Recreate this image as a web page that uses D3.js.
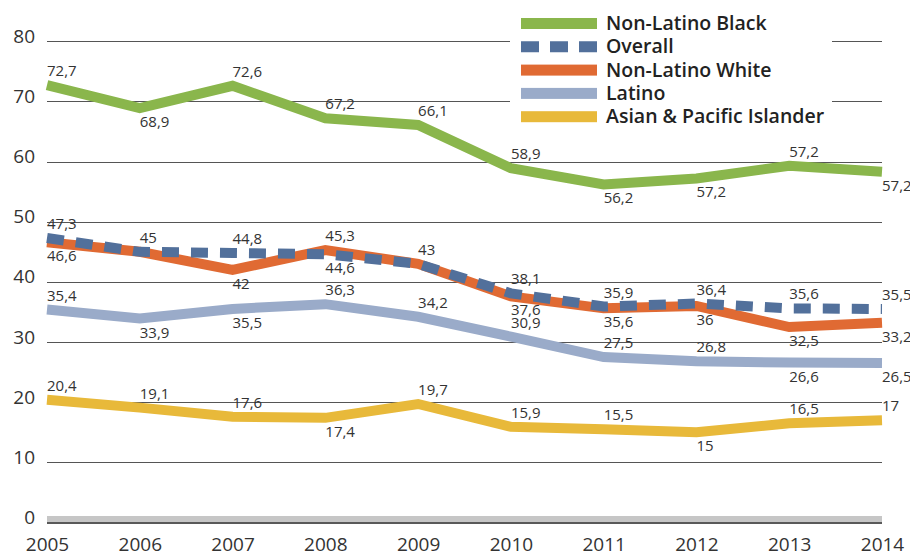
<!DOCTYPE html>
<html>
<head>
<meta charset="utf-8">
<script src="https://cdn.jsdelivr.net/npm/d3@7"></script>
<style>
  body { margin: 0; background: #fff; }
  svg { display: block; font-family: "Open Sans", "Noto Sans", sans-serif; }
</style>
</head>
<body>
<div id="chart"></div>
<script>
// Data
const years = [2005, 2006, 2007, 2008, 2009, 2010, 2011, 2012, 2013, 2014];
const yTicks = [0, 10, 20, 30, 40, 50, 60, 70, 80];

const blackValues   = [72.7, 68.9, 72.6, 67.2, 66.1, 58.9, 56.2, 57.2, 59.3, 58.3];
const blackLabels   = ["72,7", "68,9", "72,6", "67,2", "66,1", "58,9", "56,2", "57,2", "57,2", "57,2"];
const overallValues = [47.3, 45, 44.8, 44.6, 43, 38.1, 35.9, 36.4, 35.6, 35.5];
const whiteValues   = [46.6, 45, 42, 45.3, 43, 37.6, 35.6, 36, 32.5, 33.2];
const latinoValues  = [35.4, 33.9, 35.5, 36.3, 34.2, 30.9, 27.5, 26.8, 26.6, 26.5];
const asianValues   = [20.4, 19.1, 17.6, 17.4, 19.7, 15.9, 15.5, 15, 16.5, 17];

// label placement: a = above the point, b = below, - = shared with Overall label
const blackPos   = "abaaaabbab";
const overallPos = "aaabaaaaaa";
const whitePos   = "b-ba-bbbbb";
const latinoPos  = "abbaaaaabb";
const asianPos   = "aaabaaabaa";

const seriesNames = ["Non-Latino Black", "Overall", "Non-Latino White", "Latino", "Asian & Pacific Islander"];

const fmt = v => String(v).replace(".", ",");

const series = [
  { name: seriesNames[4], values: asianValues,   pos: asianPos,   color: "#e8b93a", width: 10 },
  { name: seriesNames[3], values: latinoValues,  pos: latinoPos,  color: "#9aabc9", width: 10 },
  { name: seriesNames[2], values: whiteValues,   pos: whitePos,   color: "#e06a33", width: 10 },
  { name: seriesNames[1], values: overallValues, pos: overallPos, color: "#52709b", width: 10, dash: "17,12" },
  { name: seriesNames[0], values: blackValues,   pos: blackPos,   color: "#8ab64c", width: 10, labels: blackLabels }
];

const width = 910, height = 554;

const svg = d3.select("#chart").append("svg")
  .attr("width", width)
  .attr("height", height);

const x = d3.scaleLinear().domain([2005, 2014]).range([47, 882]);
const y = d3.scaleLinear().domain([0, 80]).range([522.5, 41.3]);

// Gridlines
svg.append("g")
  .selectAll("line")
  .data(yTicks.filter(d => d > 0))
  .enter()
  .append("line")
  .attr("x1", x(2005))
  .attr("x2", x(2014))
  .attr("y1", d => Math.round(y(d)) + 0.5)
  .attr("y2", d => Math.round(y(d)) + 0.5)
  .style("stroke", "#555")
  .style("stroke-width", 1);

// Zero band + base line
svg.append("rect")
  .attr("x", x(2005))
  .attr("y", y(0) - 6.5)
  .attr("width", x(2014) - x(2005))
  .attr("height", 6)
  .style("fill", "#c6c6c6");

svg.append("line")
  .attr("x1", x(2005))
  .attr("x2", x(2014))
  .attr("y1", y(0) + 0.5)
  .attr("y2", y(0) + 0.5)
  .style("stroke", "#222")
  .style("stroke-width", 1.5);

// Y axis
const yAxis = svg.append("g")
  .attr("transform", "translate(35,0)")
  .call(d3.axisLeft(y).tickValues(yTicks).tickSize(0).tickPadding(0));
yAxis.select(".domain").remove();
yAxis.selectAll("text")
  .attr("dy", "0.05em")
  .style("font-size", "19px")
  .style("font-family", "'Open Sans', sans-serif")
  .style("fill", "#333");

// X axis
const xAxis = svg.append("g")
  .attr("transform", "translate(0,535)")
  .call(d3.axisBottom(x).tickValues(years).tickFormat(d3.format("d")).tickSize(0).tickPadding(0));
xAxis.select(".domain").remove();
xAxis.selectAll("text")
  .attr("dy", "0.85em")
  .style("font-size", "19px")
  .style("font-family", "'Open Sans', sans-serif")
  .style("fill", "#333");

// Lines
const line = d3.line()
  .x((d, i) => x(years[i]))
  .y(d => y(d));

series.forEach(s => {
  svg.append("path")
    .datum(s.values)
    .attr("d", line)
    .style("fill", "none")
    .style("stroke", s.color)
    .style("stroke-width", s.width)
    .style("stroke-dasharray", s.dash || null)
    .style("stroke-linejoin", "miter");
});

// Value labels
series.forEach(s => {
  const pts = s.values.map((v, i) => ({ v, i })).filter(p => s.pos[p.i] !== "-");
  svg.append("g")
    .selectAll("text")
    .data(pts)
    .enter()
    .append("text")
    .attr("x", d => x(years[d.i]))
    .attr("y", d => s.pos[d.i] === "a" ? y(d.v) - 9 : y(d.v) + 19)
    .style("font-size", "15px")
    .style("fill", "#333")
    .text(d => s.labels ? s.labels[d.i] : fmt(d.v));
});

// Legend
const legend = svg.append("g");
legend.append("rect")
  .attr("x", 510)
  .attr("y", 8)
  .attr("width", 322)
  .attr("height", 122)
  .style("fill", "#fff");

// legend rows top to bottom follow seriesNames
const legendRows = seriesNames.map(n => series.find(s => s.name === n));

legendRows.forEach((s, i) => {
  const cy = 23.5 + i * 23.3;
  if (s.dash) {
    legend.append("line")
      .attr("x1", 521).attr("x2", 597)
      .attr("y1", cy).attr("y2", cy)
      .style("stroke", s.color)
      .style("stroke-width", 11)
      .style("stroke-dasharray", "18,11");
  } else {
    legend.append("rect")
      .attr("x", 521)
      .attr("y", cy - 5.5)
      .attr("width", 76)
      .attr("height", 11)
      .style("fill", s.color);
  }
  legend.append("text")
    .attr("x", 606)
    .attr("y", cy + 6.5)
    .style("font-size", "19.5px")
    .style("font-weight", 600)
    .style("fill", "#222")
    .text(s.name);
});
</script>
</body>
</html>
